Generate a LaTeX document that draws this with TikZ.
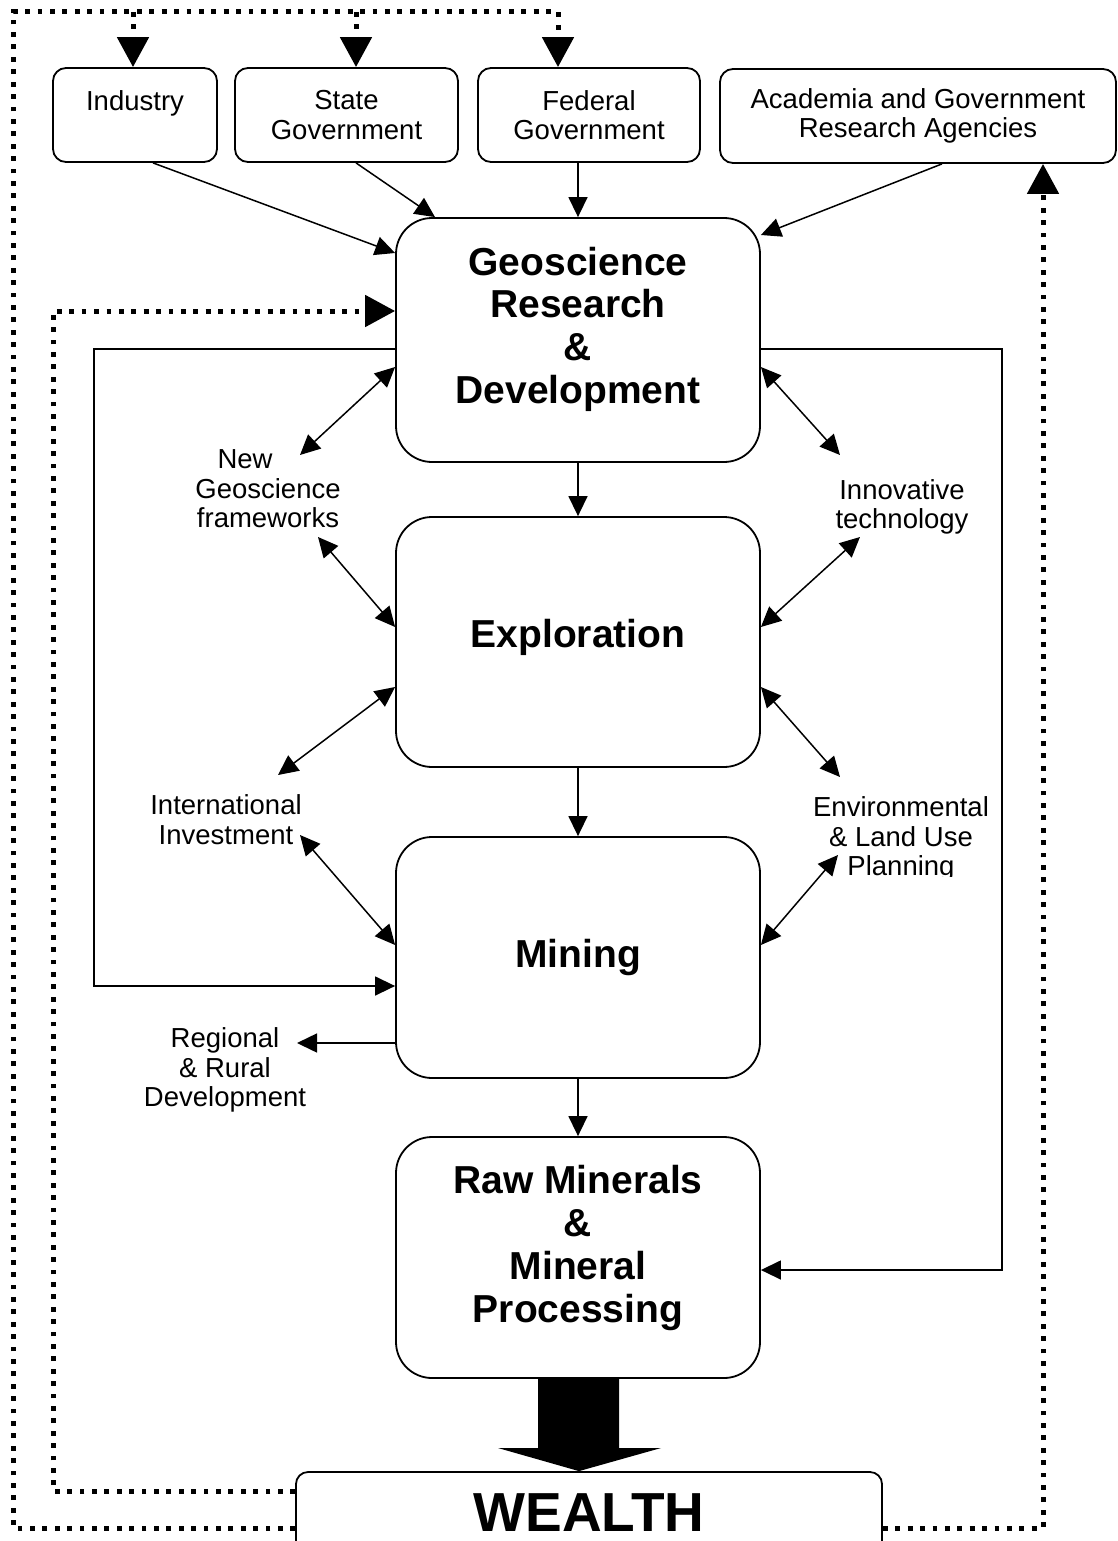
\documentclass[tikz,border=0pt]{standalone}
\usepackage{fontspec}
\setmainfont{Liberation Sans}
\usetikzlibrary{arrows.meta}
\newcommand\labfont{\fontsize{27.5}{29.5}\selectfont}
\newcommand\bigfont{\fontsize{39}{42.7}\selectfont\bfseries}
\newcommand\wealthfont{\fontsize{55}{60}\selectfont\bfseries}
\begin{document}
\begin{tikzpicture}[x=1pt,y=-1pt,
  mainbox/.style={draw,line width=1.8pt,rounded corners=36pt,inner sep=0pt,minimum width=364pt},
  srcbox/.style={draw,line width=1.8pt,rounded corners=13pt,inner sep=0pt,minimum height=94pt,align=center,font=\labfont},
  wbox/.style={draw,line width=1.8pt,rounded corners=12pt,inner sep=0pt},
  lab/.style={align=center,font=\labfont,inner sep=0pt},
  big/.style={align=center,font=\bigfont,inner sep=0pt},
  conn/.style={line width=1.5pt,-{Triangle[length=20pt,width=19pt]}},
  dconn/.style={line width=1.5pt,{Triangle[length=20pt,width=19pt]}-{Triangle[length=20pt,width=19pt]}},
  dots/.style={line width=5pt,dash pattern=on 4.8pt off 7.6pt},
  dotarrow/.style={dots,-{Triangle[length=30pt,width=31pt]}},
]
\useasboundingbox (0,0) rectangle (1118,1541);
\clip (0,0) rectangle (1118,1541);

% source boxes
\node[srcbox,minimum width=164pt] (ind) at (135,115) {Industry\\\phantom{G}};
\node[srcbox,minimum width=223pt] (sta) at (346.5,115) {State\\Government};
\node[srcbox,minimum width=222pt] (fed) at (589,115) {Federal\\Government};
\node[srcbox,minimum width=396pt] (aca) at (918,116) {Academia and Government\\Research Agencies};

% main boxes
\node[mainbox,minimum height=244pt] (geo) at (578,340) {};
\node[mainbox,minimum height=250pt] (exp) at (578,642) {};
\node[mainbox,minimum height=241pt] (min) at (578,957.5) {};
\node[mainbox,minimum height=241pt] (raw) at (578,1257.5) {};
\node[wbox,minimum width=586pt,minimum height=140pt] (wealth) at (589,1542) {};

% main texts
\node[big] (geot) at (578,329) {Geoscience\\Research\\\&\\Development};
\node[big] (expt) at (578,637) {Exploration};
\node[big] (mint) at (578,957) {Mining};
\node[big] (rawt) at (578,1248) {Raw Minerals\\\&\\Mineral\\Processing};
\node[font=\wealthfont,inner sep=0pt] (wt) at (589,1513) {WEALTH};

% labels
\node[lab] (nfw) at (268,489) {\makebox[101pt][l]{New}\\Geoscience\\frameworks};
\node[lab] (innov) at (902,507) {Innovative\\technology};
\node[lab] (intl) at (226,819.5) {International\\Investment};
\node[lab] (reg) at (225,1070) {Regional\\\& Rural\\Development};
\begin{scope}
\clip (770,780) rectangle (1000,876);
\node[lab] (env) at (901,839) {Environmental\\\& Land Use\\Planning};
\end{scope}

% dotted feedback loops
\draw[dotarrow] (wealth.west |- 0,1528) -- (13,1528) -- (13,12) -- (558,12) -- (fed.north -| 558,0);
\draw[dotarrow] (133,12) -- (ind.north -| 133,0);
\draw[dotarrow] (356,12) -- (sta.north -| 356,0);
\draw[dotarrow] (wealth.west |- 0,1491) -- (53,1491) -- (53,311) -- (geo.west |- 0,311);
\draw[dotarrow] (wealth.east |- 0,1528) -- (1043,1528) -- (aca.south -| 1043,0);

% inputs
\draw[conn] (ind.south -| 153,0) -- (geo.west |- 0,253);
\draw[conn] (sta.south -| 356,0) -- (geo.north -| 435,0);
\draw[conn] (fed.south -| 578,0) -- (geo.north);
\draw[conn] (aca.south -| 942,0) -- (geo.east |- 0,235);

% main chain
\draw[conn] (geo.south) -- (exp.north);
\draw[conn] (exp.south) -- (min.north);
\draw[conn] (min.south) -- (raw.north);
\fill (raw.south -| 538,0) -- (raw.south -| 619,0) -- (619,1448) -- (661,1448)
  -- (wealth.north -| 579,0) -- (498,1448) -- (538,1448) -- cycle;

% solid feedback
\draw[conn] (geo.west |- 0,349) -- (94,349) -- (94,986) -- (min.west |- 0,986);
\draw[conn] (geo.east |- 0,349) -- (1002,349) -- (1002,1270) -- (raw.east |- 0,1270);

% side arrows
\coordinate (nfwA) at (300,455);
\coordinate (nfwB) at (318,537);
\coordinate (intA) at (278,775);
\coordinate (intB) at (300,835);
\coordinate (regA) at (297,1043);
\coordinate (innA) at (840,455);
\coordinate (innB) at (860,537);
\coordinate (envA) at (840,777);
\coordinate (envB) at (838,855);
\draw[dconn] (geo.west |- 0,367) -- (nfwA);
\draw[dconn] (nfwB) -- (exp.west |- 0,627);
\draw[dconn] (exp.west |- 0,687) -- (intA);
\draw[dconn] (intB) -- (min.west |- 0,945);
\draw[conn] (min.west |- 0,1043) -- (regA);
\draw[dconn] (geo.east |- 0,367) -- (innA);
\draw[dconn] (innB) -- (exp.east |- 0,627);
\draw[dconn] (exp.east |- 0,687) -- (envA);
\draw[dconn] (envB) -- (min.east |- 0,945);
\end{tikzpicture}
\end{document}
